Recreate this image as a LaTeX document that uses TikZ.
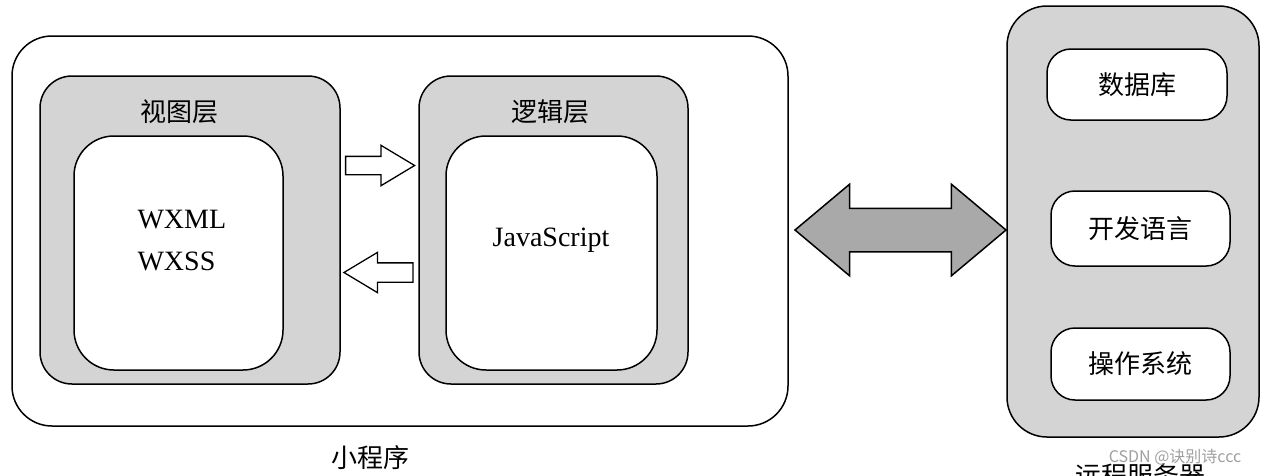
\documentclass[tikz,border=0pt]{standalone}
\usepackage{fontspec}
\setmainfont{Liberation Serif}
\newfontfamily\cjk{Noto Sans CJK SC}
\usetikzlibrary{shapes.arrows}
\definecolor{layergray}{HTML}{D4D4D4}
\definecolor{arrowgray}{HTML}{A9A9A9}

\begin{document}
\begin{tikzpicture}[x=1pt,y=-1pt,
  box/.style={draw,line width=1.5pt,rounded corners=40pt,inner sep=0pt},
  layer/.style={box,fill=layergray,rounded corners=32pt},
  part/.style={box,fill=white,rounded corners=24pt},
  cjklabel/.style={font=\cjk\fontsize{26}{30}\selectfont},
  code/.style={font=\fontsize{28}{42}\selectfont}]
\useasboundingbox (0,0) rectangle (1264,475);
% mini program
\node[box,fill=white,minimum width=776pt,minimum height=390pt] (app) at (400,231) {};
\node[layer,minimum width=300pt,minimum height=308pt] (view) at (190,230) {};
\node[box,fill=white,minimum width=209pt,minimum height=234pt] (viewin) at (178.5,253) {};
\node[layer,minimum width=269pt,minimum height=308pt] (logic) at (553.5,230) {};
\node[box,fill=white,minimum width=211pt,minimum height=234pt] (logicin) at (551.5,253) {};
\node[cjklabel] (viewlbl) at (179,112) {视图层};
\node[cjklabel] (logiclbl) at (550,112) {逻辑层};
\node[code,align=left,anchor=west] (wx) at (134,241) {WXML\\WXSS};
\node[code] (js) at (551,240) {JavaScript};
\node[cjklabel] (applbl) at (370,458) {小程序};
% arrows between the layers
\node[single arrow,draw,fill=white,line width=1.3pt,inner xsep=0pt,inner ysep=8.5pt,
  minimum height=69pt,single arrow head extend=11pt,single arrow tip angle=62] (tologic) at (372.5,165.5) {};
\node[single arrow,draw,fill=white,line width=1.3pt,inner xsep=0pt,inner ysep=9pt,
  minimum height=69pt,single arrow head extend=10.5pt,single arrow tip angle=62,
  shape border rotate=180] (toview) at (386.5,272.5) {};
% server
\node[layer,rounded corners=40pt,minimum width=252pt,minimum height=431pt] (server) at (1133,221.5) {};
\node[part,cjklabel,minimum width=180pt,minimum height=71pt] (db) at (1137,84.5) {数据库};
\node[part,cjklabel,minimum width=179pt,minimum height=75pt] (lang) at (1140.5,228.5) {开发语言};
\node[part,cjklabel,minimum width=179pt,minimum height=72pt] (os) at (1140.5,364) {操作系统};
\node[cjklabel] (serverlbl) at (1140,476) {远程服务器};
\node[font=\cjk\fontsize{16}{19}\selectfont,text=gray!75] (mark) at (1175,457) {CSDN @诀别诗ccc};
% link
\node[double arrow,draw,fill=arrowgray,line width=1.5pt,inner xsep=0pt,inner ysep=21pt,
  minimum height=211pt,double arrow head extend=24pt,double arrow tip angle=80] (link) at (900.5,230) {};
\end{tikzpicture}
\end{document}
